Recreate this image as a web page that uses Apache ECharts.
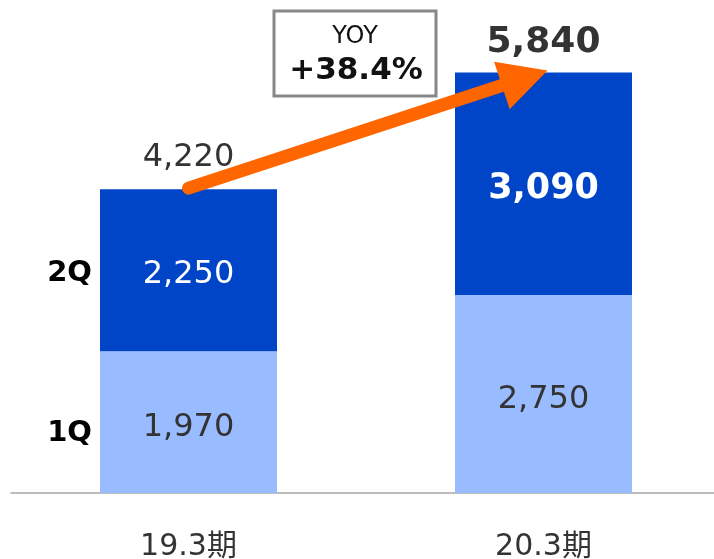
<!DOCTYPE html>
<html>
<head>
<meta charset="utf-8">
<style>
  html, body { margin: 0; padding: 0; background: #fff; }
  #main { width: 714px; height: 559px; }
</style>
<script src="https://cdn.jsdelivr.net/npm/echarts@6/dist/echarts.min.js"></script>
</head>
<body>
<div id="main"></div>
<script>
// 数据
const categories = ['19.3期', '20.3期'];
const q1Values = [1970, 2750];
const q2Values = [2250, 3090];
const totals = [4220, 5840];
const seriesNames = ['1Q', '2Q'];
const yoyText = '+38.4%';

const FONT = '"DejaVu Sans", "Noto Sans CJK JP", sans-serif';
const chart = echarts.init(document.getElementById('main'));

const fmt = v => v.toLocaleString('en-US');

const option = {
  animation: false,
  grid: { left: 11, width: 710, top: 61, bottom: 66, outerBoundsMode: 'none', containLabel: false },
  xAxis: {
    type: 'category',
    data: categories,
    axisLine: { lineStyle: { color: '#a6a6a6', width: 1.5 } },
    axisTick: { show: false },
    axisLabel: {
      color: '#333', fontSize: 30, fontFamily: FONT,
      margin: 54, verticalAlign: 'middle'
    }
  },
  yAxis: {
    type: 'value', min: 0, max: 6000,
    show: false, splitLine: { show: false }
  },
  series: [
    {
      name: seriesNames[0], type: 'bar', stack: 'total', barWidth: 177,
      itemStyle: { color: '#99bbff' },
      label: {
        show: true, position: 'inside', color: '#333', offset: [0, 6],
        fontSize: 32, fontFamily: FONT,
        formatter: p => fmt(p.value)
      },
      data: q1Values
    },
    {
      name: seriesNames[1], type: 'bar', stack: 'total', barWidth: 177,
      itemStyle: { color: '#0044c8' },
      label: {
        show: true, position: 'inside', color: '#fff', offset: [0, 5],
        fontSize: 32, fontFamily: FONT,
        formatter: p => fmt(p.value)
      },
      data: q2Values.map((v, i) => i === 1
        ? { value: v, label: { fontWeight: 'bold', fontSize: 35 } }
        : v)
    },
    {
      // 合计标签
      name: 'total', type: 'bar', stack: 'total', barWidth: 177,
      itemStyle: { color: 'transparent' },
      label: {
        show: true, position: 'top', distance: 15, color: '#333',
        fontSize: 32, fontFamily: FONT,
        formatter: p => fmt(totals[p.dataIndex])
      },
      data: totals.map((t, i) => i === 1
        ? { value: 0, label: { fontWeight: 'bold', fontSize: 36, distance: 12 } }
        : 0)
    }
  ]
};
chart.setOption(option);

// 箭头 / 季度标签 / YOY框
function drawExtras() {
  const p0 = chart.convertToPixel({ seriesIndex: 0 }, [0, totals[0]]);
  const p1 = chart.convertToPixel({ seriesIndex: 0 }, [1, totals[1]]);
  const start = [p0[0], p0[1] - 1];
  const tip = [p1[0] + 4, p1[1] - 2];
  const dx = tip[0] - start[0], dy = tip[1] - start[1];
  const len = Math.sqrt(dx * dx + dy * dy);
  const ux = dx / len, uy = dy / len;
  const headLen = 48, headHalf = 25;
  const base = [tip[0] - ux * headLen, tip[1] - uy * headLen];
  const shaftEnd = [tip[0] - ux * (headLen - 4), tip[1] - uy * (headLen - 4)];

  const barLeft = p0[0] - 88.5;
  const y1Q = chart.convertToPixel({ seriesIndex: 0 }, [0, q1Values[0] / 2])[1];
  const y2Q = chart.convertToPixel({ seriesIndex: 0 }, [0, q1Values[0] + q2Values[0] / 2])[1];

  chart.setOption({
    graphic: [
      {
        type: 'line', z: 100,
        shape: { x1: start[0], y1: start[1], x2: shaftEnd[0], y2: shaftEnd[1] },
        style: { stroke: '#ff6600', lineWidth: 13, lineCap: 'round' }
      },
      {
        type: 'polygon', z: 100,
        shape: {
          points: [
            tip,
            [base[0] - uy * headHalf, base[1] + ux * headHalf],
            [base[0] + uy * headHalf, base[1] - ux * headHalf]
          ]
        },
        style: { fill: '#ff6600' }
      },
      {
        type: 'text', z: 100, x: barLeft - 8, y: y2Q + 3,
        style: {
          text: seriesNames[1], fill: '#000', font: 'bold 29px ' + FONT,
          textAlign: 'right', textVerticalAlign: 'middle'
        }
      },
      {
        type: 'text', z: 100, x: barLeft - 8, y: y1Q + 11,
        style: {
          text: seriesNames[0], fill: '#000', font: 'bold 29px ' + FONT,
          textAlign: 'right', textVerticalAlign: 'middle'
        }
      },
      {
        type: 'rect', z: 100,
        shape: { x: 274, y: 11, width: 162, height: 85 },
        style: { fill: '#fff', stroke: '#888', lineWidth: 3 }
      },
      {
        type: 'text', z: 101, x: 355, y: 37,
        style: {
          text: 'YOY', fill: '#111', font: '24px ' + FONT,
          textAlign: 'center', textVerticalAlign: 'middle'
        }
      },
      {
        type: 'text', z: 101, x: 356, y: 71,
        style: {
          text: yoyText, fill: '#111', font: 'bold 31px ' + FONT,
          textAlign: 'center', textVerticalAlign: 'middle'
        }
      }
    ]
  });
}
drawExtras();
</script>
</body>
</html>
